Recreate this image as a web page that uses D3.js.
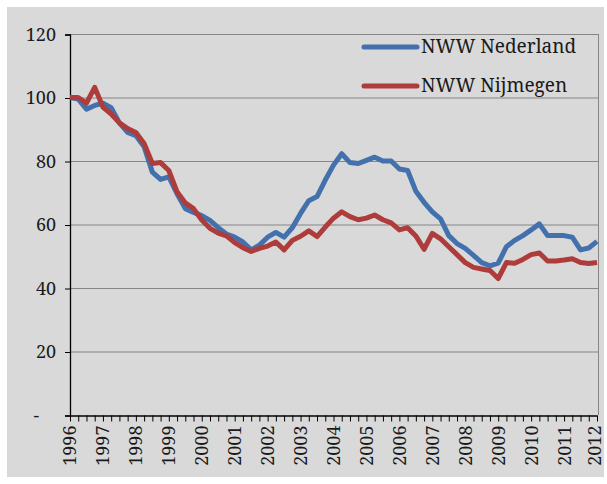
<!DOCTYPE html>
<html><head><meta charset="utf-8">
<script src="https://cdn.jsdelivr.net/npm/d3@7"></script>
<style>body{margin:0;background:#fff}svg{display:block}</style>
</head><body><svg id="c" width="607" height="484"></svg>
<script>
const years = ["1996","1997","1998","1999","2000","2001","2002","2003","2004","2005","2006","2007","2008","2009","2010","2011","2012"];
const quarters = ["Q1","Q2","Q3","Q4"];
const yTicks = [0,20,40,60,80,100,120];
const seriesNames = ["NWW Nederland","NWW Nijmegen"];
const nederland = [100,99.5,96.3,97.5,98.2,96.8,92,89,88,84.5,76.5,74.2,75,69.7,65,63.8,62.8,61.3,59,57,56,54.5,52,53.5,56,57.5,56,59,63.5,67.5,68.8,74,78.7,82.3,79.5,79.2,80.2,81.2,80,80,77.5,77,70.5,67,64,61.8,56.5,54,52.5,50.3,48,47,47.8,53,55,56.5,58.3,60.2,56.5,56.5,56.5,56,52,52.6,54.7];
const nijmegen = [100,100,98.2,103.2,97,94.8,92,90.2,89,85.5,79.2,79.5,77,70.3,66.8,65,61.4,58.8,57.3,56.4,54.3,52.7,51.5,52.5,53.2,54.5,52,55,56.3,58,56.2,59.2,62,64,62.5,61.5,62,63,61.5,60.5,58.3,59,56.4,52.2,57.2,55.5,53,50.5,48,46.5,46,45.5,43,48,47.8,49,50.5,51,48.5,48.5,48.8,49.2,48,47.7,48];

// categories: quarter labels, last is 2012 Q1
const categories = [];
years.forEach(y => quarters.forEach(q => categories.push(y + " " + q)));
const cats = categories.slice(0, nederland.length);

const svg = d3.select("#c");
const L = 70, R = 597, T = 34, B = 415;
const font = '"Noto Serif","Liberation Serif",serif';

svg.append("rect").attr("x",7).attr("y",7).attr("width",597).attr("height",470).attr("fill","#d9d9d9");

const x = d3.scalePoint().domain(cats).range([L, R]);
const y = d3.scaleLinear().domain([0,120]).range([B, T]);

// gridlines
svg.append("g").selectAll("line").data(yTicks.filter(d=>d>0)).join("line")
  .attr("x1",L).attr("x2",R+1).attr("y1",d=>y(d)+0.5).attr("y2",d=>y(d)+0.5)
  .attr("stroke","#868686").attr("stroke-width",1.2);
// right border
svg.append("line").attr("x1",R+1.5).attr("x2",R+1.5).attr("y1",T).attr("y2",B)
  .attr("stroke","#868686").attr("stroke-width",1);

// y axis
const ya = svg.append("g").attr("transform",`translate(${L},0.5)`)
  .call(d3.axisLeft(y).tickValues(yTicks).tickSize(5).tickPadding(9).tickFormat(d => d===0 ? "-" : d));
ya.attr("font-family",null);
ya.select(".domain").attr("stroke","#000").attr("stroke-width",1.3);
ya.selectAll(".tick line").attr("stroke","#000");
ya.selectAll("text").style("font-family",font).style("font-size","18px").attr("fill","#1a1a1a");
ya.selectAll(".tick").filter(d=>d===0).select("text").attr("x",-31);

// x axis
const xa = svg.append("g").attr("transform",`translate(0,${B+0.5})`)
  .call(d3.axisBottom(x).tickSize(6).tickSizeOuter(0).tickFormat(d => d.endsWith("Q1") ? d.slice(0,4) : ""));
xa.attr("font-family",null);
xa.select(".domain").attr("stroke","#000").attr("stroke-width",1.3);
xa.selectAll(".tick line").attr("stroke","#000");
xa.selectAll("text").style("font-family",font).style("font-size","18px").attr("fill","#1a1a1a")
  .attr("transform","rotate(-90)").attr("text-anchor","end").attr("x",-10).attr("y",0).attr("dy","0.33em");
xa.selectAll(".tick").filter(d => d === cats[cats.length-1]).select("text").attr("dy","0.17em");

const colors = ["#4271ad","#ad3c3b"];
const line = d3.line().x((d,i)=>x(cats[i])).y(d=>y(d));
[nederland, nijmegen].forEach((s,k) => {
  svg.append("path").datum(s).attr("d",line).attr("fill","none")
    .attr("stroke",colors[k]).attr("stroke-width",5).attr("stroke-linejoin","round");
});

// legend
const lg = svg.append("g");
const ly = [47, 86];
seriesNames.forEach((n,k) => {
  lg.append("line").attr("x1",364).attr("x2",417).attr("y1",ly[k]).attr("y2",ly[k])
    .attr("stroke",colors[k]).attr("stroke-width",5).attr("stroke-linecap","round");
  lg.append("text").attr("x",421).attr("y",ly[k]+6).text(n)
    .style("font-family",font).style("font-size","19px").attr("fill","#1a1a1a");
});
</script></body></html>
